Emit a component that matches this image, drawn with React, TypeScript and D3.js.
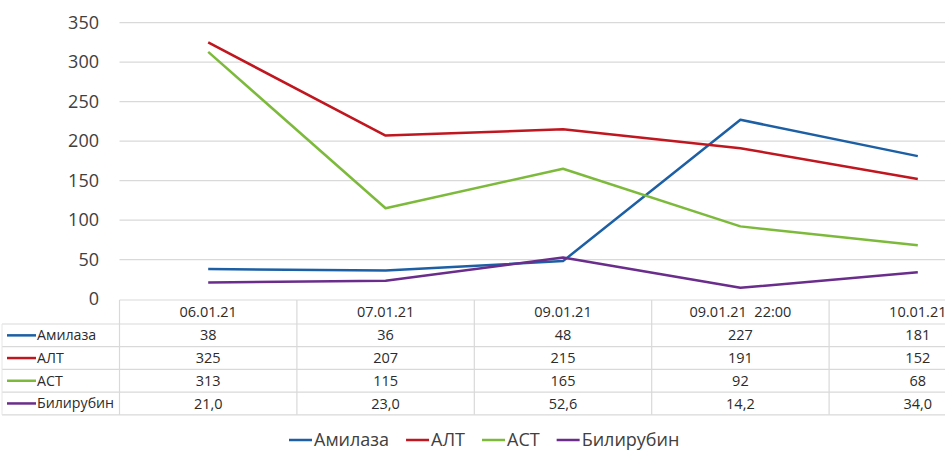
import React, { useEffect, useRef } from "react";
import * as d3 from "d3";

const categories = ["06.01.21", "07.01.21", "09.01.21", "09.01.21  22:00", "10.01.21"];
const seriesNames = ["Амилаза", "АЛТ", "АСТ", "Билирубин"];
const amylase = [38, 36, 48, 227, 181];
const alt = [325, 207, 215, 191, 152];
const ast = [313, 115, 165, 92, 68];
const bilirubin = [21.0, 23.0, 52.6, 14.2, 34.0];
const bilirubinLabels = ["21,0", "23,0", "52,6", "14,2", "34,0"];
const yTicks = [0, 50, 100, 150, 200, 250, 300, 350];
const colors = ["#1c5fa4", "#c0161f", "#7dba3c", "#6a2d8b"];

const W = 945;
const H = 452;
const FONT = "'Open Sans', 'Noto Sans', sans-serif";

export default function App() {
  const legendRef = useRef<SVGGElement>(null);

  const x = d3.scaleBand<string>().domain(categories).range([119.5, 1006.5]);
  const y = d3.scaleLinear().domain([0, 350]).range([299, 22.7]);
  const cx = (c: string) => (x(c) as number) + x.bandwidth() / 2;

  const data = [amylase, alt, ast, bilirubin];
  const labels = [
    amylase.map(String),
    alt.map(String),
    ast.map(String),
    bilirubinLabels,
  ];
  const line = d3
    .line<number>()
    .x((_, i) => cx(categories[i]))
    .y((d) => y(d));

  const headerTop = 300;
  const headerBottom = 324;
  const rowH = 22.7;
  const tableBottom = headerBottom + rowH * 4;

  useEffect(() => {
    document.body.style.margin = "0";
    const g = d3.select(legendRef.current);
    g.selectAll("*").remove();
    const items: { g: any; w: number }[] = [];
    seriesNames.forEach((n, i) => {
      const it = g.append("g");
      it.append("line")
        .attr("x1", 0).attr("x2", 23).attr("y1", 0).attr("y2", 0)
        .attr("stroke", colors[i]).attr("stroke-width", 2.5);
      const t = it.append("text")
        .attr("x", 25).attr("y", 0).attr("dy", "0.35em")
        .attr("font-family", FONT).attr("font-size", 18).attr("fill", "#404040")
        .text(n);
      const w = 25 + (t.node() as SVGTextElement).getComputedTextLength();
      items.push({ g: it, w });
    });
    const gap = 17;
    let pos = 289;
    items.forEach((d) => {
      d.g.attr("transform", `translate(${pos},440)`);
      pos += d.w + gap;
    });
  }, []);

  return (
    <svg
      width={W}
      height={H}
      style={{ display: "block", overflow: "hidden", position: "fixed", left: 0, top: 0 }}
      viewBox={`0 0 ${W} ${H}`}
    >
      <rect width={W} height={H} fill="#fff" />
      {yTicks.map((t) => (
        <g key={t}>
          {t > 0 && (
            <line x1={119.5} x2={W} y1={y(t)} y2={y(t)} stroke="#d9d9d9" strokeWidth={1.2} />
          )}
          <text x={99} y={y(t)} dy="0.35em" textAnchor="end" fontFamily={FONT} fontSize={18} fill="#404040">
            {t}
          </text>
        </g>
      ))}
      {/* table horizontal lines */}
      <line x1={119.5} x2={W} y1={headerTop} y2={headerTop} stroke="#d9d9d9" strokeWidth={1.2} />
      {[0, 1, 2, 3, 4].map((r) => (
        <line key={r} x1={2} x2={W} y1={headerBottom + r * rowH} y2={headerBottom + r * rowH} stroke="#d9d9d9" strokeWidth={1.2} />
      ))}
      {/* vertical lines */}
      {categories.map((c) => (
        <line key={c} x1={x(c) as number} x2={x(c) as number} y1={headerTop} y2={tableBottom} stroke="#d9d9d9" strokeWidth={1.2} />
      ))}
      <line x1={2} x2={2} y1={headerBottom} y2={tableBottom} stroke="#e6e6e6" strokeWidth={1} />
      {/* header */}
      {categories.map((c) => (
        <text key={c} x={cx(c)} y={(headerTop + headerBottom) / 2} dy="0.35em" textAnchor="middle" fontFamily={FONT} fontSize={14.5} fill="#2b2b2b" style={{ whiteSpace: "pre" }}>
          {c}
        </text>
      ))}
      {/* rows */}
      {seriesNames.map((n, i) => {
        const yc = headerBottom + rowH * i + rowH / 2;
        return (
          <g key={n}>
            <line x1={7} x2={36} y1={yc} y2={yc} stroke={colors[i]} strokeWidth={2.5} />
            <text x={37} y={yc} dy="0.35em" fontFamily={FONT} fontSize={14.2} fill="#2b2b2b">
              {n}
            </text>
            {categories.map((c, j) => (
              <text key={c} x={cx(c)} y={yc} dy="0.35em" textAnchor="middle" fontFamily={FONT} fontSize={14.5} fill="#2b2b2b">
                {labels[i][j]}
              </text>
            ))}
          </g>
        );
      })}
      {/* lines */}
      {data.map((d, i) => (
        <path key={i} d={line(d) as string} fill="none" stroke={colors[i]} strokeWidth={2.5} strokeLinejoin="round" />
      ))}
      <g ref={legendRef} />
    </svg>
  );
}
